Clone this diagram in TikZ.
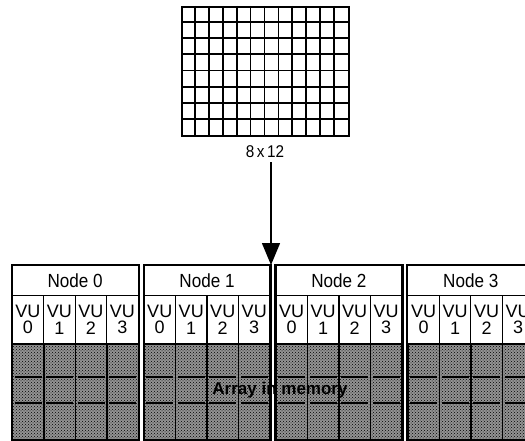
\documentclass[tikz,border=0pt]{standalone}
\usepackage{fontspec}
\usepackage{graphicx}
\setmainfont{Liberation Sans}
\usetikzlibrary{patterns,arrows.meta}
\newcommand{\cond}[1]{\scalebox{0.9}[1]{#1}}
\begin{document}
\begin{tikzpicture}[x=1pt,y=-1pt,
  gridline/.style={line width=1.8pt},
  hdr/.style={draw,line width=1.2pt,minimum width=126pt,minimum height=30pt,inner sep=0pt,anchor=north west,font=\fontsize{19}{19}\selectfont},
  vucell/.style={draw,line width=1.2pt,minimum width=31.5pt,minimum height=48pt,inner sep=0pt,anchor=north west,align=center,font=\fontsize{18}{16.5}\selectfont},
  memcell/.style={draw,line width=1.5pt,minimum width=31.5pt,minimum height=96pt,inner sep=0pt,anchor=north west,fill=gray!85,postaction={pattern=crosshatch dots,pattern color=black}},
  dashline/.style={line width=1.8pt},
  outer/.style={line width=1.8pt},
  dimlabel/.style={font=\fontsize{17}{17}\selectfont,inner sep=1pt},
  arrlabel/.style={font=\bfseries\fontsize{17}{17}\selectfont,inner sep=0pt}]
\useasboundingbox (0,0) rectangle (525,441);
\clip (0,0) rectangle (525,441);
% top array 8 x 12
\node[draw,gridline,minimum width=167pt,minimum height=129pt,inner sep=0pt,anchor=north west] (grid) at (181,6) {};
\foreach \c in {1,...,11}
  \draw[gridline] ([xshift=\c*167/12]grid.north west) -- ([xshift=\c*167/12]grid.south west);
\foreach \r in {1,...,7}
  \draw[gridline] ([yshift=-\r*129/8]grid.north west) -- ([yshift=-\r*129/8]grid.north east);
\node[dimlabel] (dim) at (265,152) {\cond{8\,x\,12}};
\coordinate (tip) at (271,265);
\draw[line width=1.5pt,-{Triangle[length=22pt,width=18pt]}] (dim.south -| tip) ++(0,3) coordinate (astart) -- (tip);
% nodes
\foreach \i in {0,...,3}{
  \pgfmathsetmacro{\xl}{11.5+131.9*\i}
  \node[hdr] (h\i) at (\xl,265) {\cond{Node \i}};
  \foreach \j in {0,...,3}{
    \node[vucell] (v\i\j) at (\xl+31.5*\j,295) {VU\\\j};
    \node[memcell] (m\i\j) at (\xl+31.5*\j,343) {};
    \draw[dashline] ([shift={(3,34)}]m\i\j.north west) -- ([shift={(-3,34)}]m\i\j.north east);
    \draw[dashline] ([shift={(3,60)}]m\i\j.north west) -- ([shift={(-3,60)}]m\i\j.north east);
  }
  \draw[outer] (h\i.north west) rectangle (m\i3.south east);
}
\node[arrlabel] (arr) at (280,390) {Array in memory};
\end{tikzpicture}
\end{document}
